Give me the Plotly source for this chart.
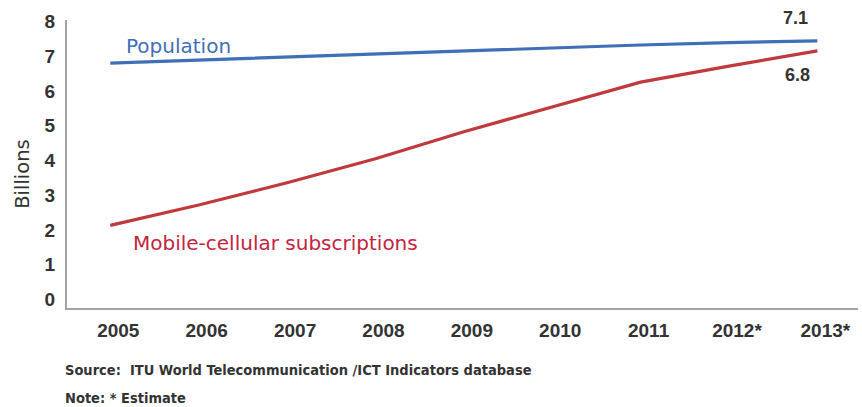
import plotly.graph_objects as go

years = [2005, 2006, 2007, 2008, 2009, 2010, 2011, 2012, 2013]
year_labels = ["2005", "2006", "2007", "2008", "2009", "2010", "2011", "2012*", "2013*"]
population = [6.81, 6.90, 6.97, 7.07, 7.17, 7.25, 7.33, 7.40, 7.45]
mobile = [2.13, 2.72, 3.36, 4.05, 4.83, 5.55, 6.26, 6.72, 7.16]
y_ticks = [0, 1, 2, 3, 4, 5, 6, 7, 8]

BLUE = "#3f6fb6"
RED = "#c0393c"
TXT = "#333333"

fig = go.Figure()
fig.add_trace(go.Scatter(x=years, y=population, mode="lines",
                         line=dict(color=BLUE, width=3.2), name="Population",
                         hoverinfo="x+y"))
fig.add_trace(go.Scatter(x=years, y=mobile, mode="lines",
                         line=dict(color=RED, width=3.2), name="Mobile-cellular subscriptions",
                         hoverinfo="x+y"))

fig.update_layout(
    width=862, height=407,
    margin=dict(l=67, r=4, t=20, b=99),
    paper_bgcolor="white", plot_bgcolor="white",
    showlegend=False,
    font=dict(family="Liberation Sans, Arial, sans-serif", color=TXT),
)
fig.update_xaxes(
    range=[2004.51, 2013.46],
    tickvals=years, ticktext=year_labels,
    showgrid=False, zeroline=False,
    showline=True, linecolor="#a3a3a3", linewidth=2,
    ticks="", ticklabelshift=8, ticklabelstandoff=4,
    tickfont=dict(size=19, color=TXT, family="Liberation Sans, Arial, sans-serif", weight="bold"),
)
fig.update_yaxes(
    range=[-0.25, 8.05],
    tickvals=y_ticks,
    showgrid=False, zeroline=False,
    showline=True, linecolor="#a3a3a3", linewidth=2,
    ticks="", ticklabelstandoff=6,
    tickfont=dict(size=19, color=TXT, family="Liberation Sans, Arial, sans-serif", weight="bold"),
)

fig.add_annotation(x=2005.15, y=7.30, xref="x", yref="y", text="Population",
                   showarrow=False, xanchor="left", yanchor="middle",
                   font=dict(size=20, color=BLUE, family="DejaVu Sans, sans-serif"))
fig.add_annotation(x=2005.23, y=1.62, xref="x", yref="y", text="Mobile-cellular subscriptions",
                   showarrow=False, xanchor="left", yanchor="middle",
                   font=dict(size=20, color="#c4243e", family="DejaVu Sans, sans-serif"))
fig.add_annotation(x=2012.75, y=1.007, xref="x", yref="paper", text="7.1",
                   showarrow=False, xanchor="center", yanchor="middle",
                   font=dict(size=18, color=TXT, weight="bold"))
fig.add_annotation(x=2012.78, y=6.46, xref="x", yref="y", text="6.8",
                   showarrow=False, xanchor="center", yanchor="middle",
                   font=dict(size=18, color=TXT, weight="bold"))
fig.add_annotation(x=-0.0556, y=0.466, xref="paper", yref="paper", text="Billions",
                   showarrow=False, textangle=-90, xanchor="center", yanchor="middle",
                   font=dict(size=19.5, color=TXT, family="DejaVu Sans, sans-serif"))
fig.add_annotation(x=-0.005, y=-0.215, xref="paper", yref="paper",
                   text="Source:  ITU World Telecommunication /ICT Indicators database",
                   showarrow=False, xanchor="left", yanchor="middle",
                   font=dict(size=14.5, color=TXT, weight="bold",
                             family="Liberation Sans Narrow, DejaVu Sans Condensed, Liberation Sans, sans-serif"))
fig.add_annotation(x=-0.005, y=-0.3125, xref="paper", yref="paper",
                   text="Note: * Estimate",
                   showarrow=False, xanchor="left", yanchor="middle",
                   font=dict(size=14.5, color=TXT, weight="bold",
                             family="Liberation Sans Narrow, DejaVu Sans Condensed, Liberation Sans, sans-serif"))

fig.write_html("out.html",
               config={"displayModeBar": False},
               post_script="document.body.style.margin='0';document.body.style.padding='0';")
